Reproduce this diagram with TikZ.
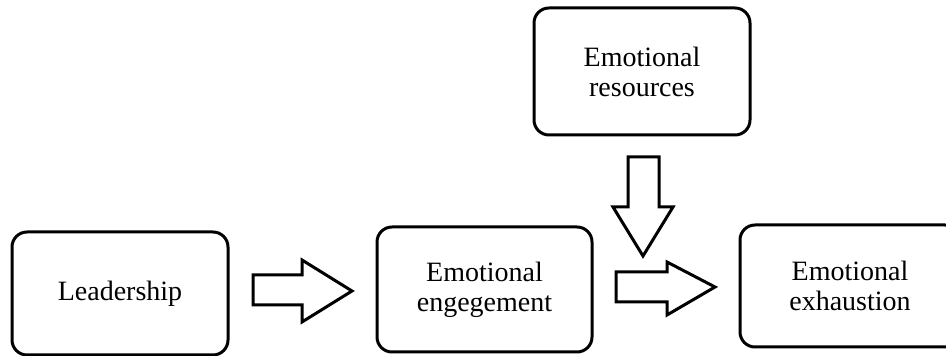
\documentclass[tikz,border=0pt]{standalone}
\usepackage{fontspec}
\setmainfont{Liberation Serif}
\usetikzlibrary{positioning}

\begin{document}
\begin{tikzpicture}[x=0.5pt,y=-0.5pt,
        box/.style={draw,line width=1.5pt,rounded corners=7.5pt,align=center,font=\fontsize{14}{15}\selectfont},
        blockarrow/.style={draw,line width=1.5pt,fill=white,line join=miter}]
    \useasboundingbox (0,0) rectangle (946,356);
    % boxes
    \node[box,minimum width=108pt,minimum height=61.5pt] (lead) at (120,293.5) {Leadership};
    \node[box,minimum width=107.5pt,minimum height=62.5pt] (eng) at (484.5,289.5) {Emotional\\engegement};
    \node[box,minimum width=108pt,minimum height=63.5pt] (res) at (642,71.5) {Emotional\\resources};
    \node[box,minimum width=110pt,minimum height=61pt] (exh) at (850,286) {Emotional\\exhaustion};
    % block arrows
    \draw[blockarrow] (253,275) -- (302,275) -- (302,260) -- (352,291) -- (302,322) -- (302,305) -- (253,305) -- cycle;
    \draw[blockarrow] (628,157) -- (659,157) -- (659,207) -- (673,207) -- (643,256) -- (613,207) -- (628,207) -- cycle;
    \draw[blockarrow] (616,272) -- (667,272) -- (667,262) -- (715,287) -- (667,315) -- (667,302) -- (616,302) -- cycle;
\end{tikzpicture}
\end{document}
